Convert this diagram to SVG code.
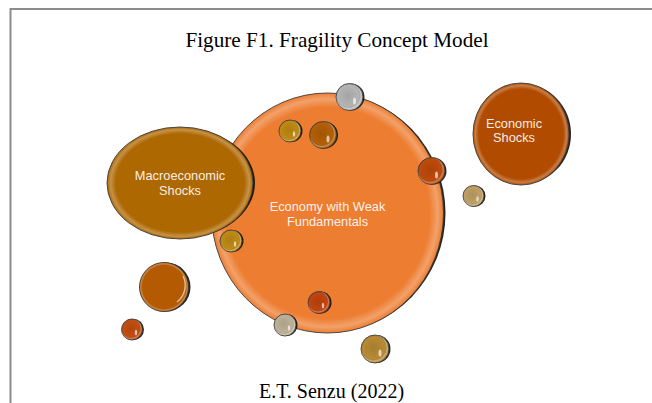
<svg xmlns="http://www.w3.org/2000/svg" width="652" height="403" viewBox="0 0 652 403">
<defs>
<radialGradient id="rim" cx="50%" cy="50%" r="50%">
<stop offset="0.88" stop-color="#fff" stop-opacity="0"/>
<stop offset="0.95" stop-color="#fff" stop-opacity="0.28"/>
<stop offset="1" stop-color="#fff" stop-opacity="0"/>
</radialGradient>
<radialGradient id="ball" cx="45%" cy="45%" r="55%">
<stop offset="0" stop-color="#000" stop-opacity="0.1"/>
<stop offset="0.72" stop-color="#000" stop-opacity="0"/>
<stop offset="0.86" stop-color="#fff" stop-opacity="0.3"/>
<stop offset="1" stop-color="#fff" stop-opacity="0"/>
</radialGradient>
<filter id="blur" x="-20%" y="-20%" width="140%" height="140%"><feGaussianBlur stdDeviation="0.5"/></filter>
</defs>
<style>
.frame{stroke:#8c8c8c;stroke-width:2;fill:none}
.title{font-family:"Liberation Serif","Times New Roman",serif;font-size:21.2px;fill:#000;text-anchor:middle}
.credit{font-family:"Liberation Serif","Times New Roman",serif;font-size:20px;fill:#000;text-anchor:middle}
.lbl{font-family:"Liberation Sans",Arial,sans-serif;font-size:12.8px;fill:#fff;fill-opacity:0.92;text-anchor:middle}
.shadow{fill:#111;opacity:0.9;filter:url(#blur)}
.body{stroke:#3a3a3a;stroke-width:0.9}
.rim{fill:url(#rim)}
.ball{fill:url(#ball)}
.spec{fill:#fff;opacity:0.65}
</style>
<path class="frame" d="M652 9 H10.5 V403"/>
<text class="title" x="337" y="47">Figure F1. Fragility Concept Model</text>
<text class="credit" x="331.5" y="398">E.T. Senzu (2022)</text>

<g id="economy">
<ellipse class="shadow" cx="329.5" cy="213" rx="116" ry="119"/>
<ellipse class="body" cx="327.5" cy="213" rx="116" ry="120" fill="#ED7D31"/>
<ellipse class="rim" cx="327.5" cy="213" rx="116" ry="120"/>
<text class="lbl" x="327.5" y="211">Economy with Weak</text>
<text class="lbl" x="327.5" y="225.5">Fundamentals</text>
</g>

<g id="macro">
<ellipse class="shadow" cx="182" cy="183" rx="73" ry="55"/>
<ellipse class="body" cx="180" cy="183" rx="73" ry="56" fill="#AE6802"/>
<ellipse class="rim" cx="180" cy="183" rx="73" ry="56"/>
<text class="lbl" x="180" y="180">Macroeconomic</text>
<text class="lbl" x="180" y="194.5">Shocks</text>
</g>

<g id="economic">
<ellipse class="shadow" cx="523" cy="134" rx="48" ry="50"/>
<ellipse class="body" cx="521" cy="134" rx="48" ry="51" fill="#B14B00"/>
<ellipse class="rim" cx="521" cy="134" rx="48" ry="51"/>
<text class="lbl" x="514" y="127.5">Economic</text>
<text class="lbl" x="514" y="142">Shocks</text>
</g>

<g id="b1"><circle class="shadow" cx="351" cy="97" r="13.5"/><circle class="body" cx="349.5" cy="97" r="13.5" fill="#B5B5B5"/><circle class="ball" cx="349.5" cy="97" r="13.5"/><ellipse class="spec" cx="354.5" cy="101" rx="1.5" ry="3.5"/></g>
<g id="b2"><circle class="shadow" cx="291.5" cy="131" r="11"/><circle class="body" cx="290" cy="131" r="11" fill="#BF8A12"/><circle class="ball" cx="290" cy="131" r="11"/><ellipse class="spec" cx="294" cy="134" rx="1.2" ry="2.8"/></g>
<g id="b3"><circle class="shadow" cx="324.5" cy="135" r="13.5"/><circle class="body" cx="323" cy="135" r="13.5" fill="#B35F05"/><circle class="ball" cx="323" cy="135" r="13.5"/><ellipse class="spec" cx="328" cy="139" rx="1.5" ry="3.5"/></g>
<g id="b4"><circle class="shadow" cx="433" cy="171" r="13.5"/><circle class="body" cx="431.5" cy="171" r="13.5" fill="#BF4A0A"/><circle class="ball" cx="431.5" cy="171" r="13.5"/><ellipse class="spec" cx="436.5" cy="175" rx="1.5" ry="3.5"/></g>
<g id="b5"><circle class="shadow" cx="475" cy="196" r="10.5"/><circle class="body" cx="473.5" cy="196" r="10.5" fill="#BFA065"/><circle class="ball" cx="473.5" cy="196" r="10.5"/><ellipse class="spec" cx="477.5" cy="199" rx="1.2" ry="2.7"/></g>
<g id="b6"><circle class="shadow" cx="232.5" cy="241" r="11"/><circle class="body" cx="231" cy="241" r="11" fill="#C08A15"/><circle class="ball" cx="231" cy="241" r="11"/><ellipse class="spec" cx="235" cy="244" rx="1.2" ry="2.8"/></g>
<g id="b7"><circle class="shadow" cx="166" cy="287" r="24.5"/><circle class="body" cx="164" cy="287" r="24.5" fill="#B35A02"/><circle class="rim" cx="164" cy="287" r="24.5"/><path d="M183 276 A21 21 0 0 1 177 302" stroke="#fff" stroke-opacity="0.6" stroke-width="1.4" fill="none"/></g>
<g id="b8"><circle class="shadow" cx="133.5" cy="329.5" r="10.5"/><circle class="body" cx="132" cy="329.5" r="10.5" fill="#C24E10"/><circle class="ball" cx="132" cy="329.5" r="10.5"/><ellipse class="spec" cx="136" cy="332.5" rx="1.2" ry="2.7"/></g>
<g id="b9"><circle class="shadow" cx="320.5" cy="302.5" r="11"/><circle class="body" cx="319" cy="302.5" r="11" fill="#C2440E"/><circle class="ball" cx="319" cy="302.5" r="11"/><ellipse class="spec" cx="323" cy="305.5" rx="1.2" ry="2.8"/></g>
<g id="b10"><circle class="shadow" cx="286.5" cy="325" r="11"/><circle class="body" cx="285" cy="325" r="11" fill="#BDB298"/><circle class="ball" cx="285" cy="325" r="11"/><ellipse class="spec" cx="289" cy="328" rx="1.2" ry="2.8"/></g>
<g id="b11"><circle class="shadow" cx="376.5" cy="349" r="14"/><circle class="body" cx="375" cy="349" r="14" fill="#B88A35"/><circle class="ball" cx="375" cy="349" r="14"/><ellipse class="spec" cx="380" cy="353" rx="1.5" ry="3.5"/></g>
</svg>
